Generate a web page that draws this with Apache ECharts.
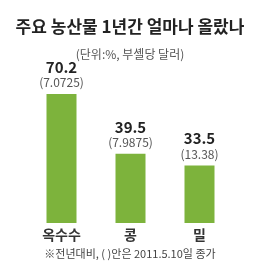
<!DOCTYPE html>
<html><head><meta charset="utf-8">
<script src="https://cdn.jsdelivr.net/npm/echarts@6/dist/echarts.min.js"></script>
<style>html,body{margin:0;padding:0;background:#fff}#c{width:260px;height:276px}</style>
</head><body><div id="c"></div>
<script>
const categories = ['옥수수', '콩', '밀'];
const changePct = [70.2, 39.5, 33.5];
const prices = ['7.0725', '7.9875', '13.38'];
const titleText = '주요 농산물 1년간 얼마나 올랐나';
const subText = '(단위:%, 부셸당 달러)';
const noteText = '※전년대비, ( )안은 2011.5.10일 종가';

const font = '"Noto Sans CJK KR", "Noto Sans", sans-serif';
const chart = echarts.init(document.getElementById('c'), null, {renderer: 'canvas'});
chart.setOption({
  animation: false,
  backgroundColor: '#fff',
  textStyle: {fontFamily: font},
  title: [{
    text: titleText, left: 'center', top: 13,
    textStyle: {fontSize: 17, fontWeight: 'bold', color: '#222', fontFamily: font}
  }, {
    text: subText, left: 'center', top: 43,
    textStyle: {fontSize: 12, fontWeight: 'normal', color: '#555', fontFamily: font}
  }],
  grid: {left: 27, right: 26, top: 94, bottom: 53},
  xAxis: {
    type: 'category', data: categories,
    axisLine: {show: false}, axisTick: {show: false},
    axisLabel: {margin: 5, fontSize: 14, fontWeight: 'bold', color: '#333', fontFamily: font}
  },
  yAxis: {type: 'value', min: 4, max: 70.2, show: false, splitLine: {show: false}},
  graphic: [{
    type: 'text', left: 'center', top: 248,
    style: {text: noteText, fontSize: 11, fill: '#444', fontFamily: font}
  }],
  series: [{
    type: 'bar', barWidth: 30,
    data: changePct,
    itemStyle: {color: '#7db33c'},
    label: {
      show: true, position: 'top', distance: 4,
      formatter: p => '{v|' + p.value + '}\n{p|(' + prices[p.dataIndex] + ')}',
      rich: {
        v: {fontSize: 15, fontWeight: 'bold', color: '#222', lineHeight: 16, fontFamily: font},
        p: {fontSize: 12, color: '#555', lineHeight: 15, fontFamily: font}
      }
    }
  }]
});
</script></body></html>
